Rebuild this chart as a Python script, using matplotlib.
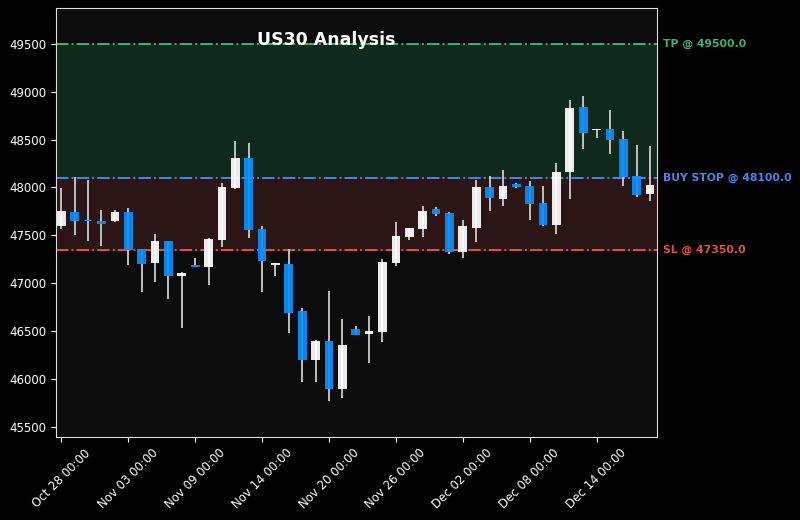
import matplotlib
matplotlib.use("Agg")
import matplotlib.pyplot as plt
import matplotlib.transforms as mtransforms
import numpy as np
import pandas as pd

# daily candles (Saturdays skipped), Oct 28 - Dec 18
dates = [d for d in pd.date_range("2025-10-28", "2025-12-18", freq="D") if d.weekday() != 5]

opens = [47600, 47745, 47655, 47650, 47645, 47745, 47355, 47210, 47440, 47080,
         47190, 47172, 47455, 47990, 48305, 47570, 47195, 47205, 46705, 46200,
         46400, 45890, 46520, 46465, 46490, 47210, 47480, 47565, 47775, 47735,
         47330, 47580, 48000, 47880, 48040, 48010, 47835, 47605, 48160, 48835,
         48595, 48610, 48510, 48115, 47930]
highs = [47995, 48105, 48080, 47760, 47760, 47785, 47360, 47515, 47445, 47115,
         47265, 47470, 48045, 48490, 48465, 47600, 47215, 47355, 46740, 46405,
         46920, 46630, 46555, 46655, 47250, 47640, 47580, 47810, 47800, 47740,
         47665, 48075, 48115, 48185, 48050, 48070, 48010, 48255, 48915, 48960,
         48615, 48810, 48590, 48440, 48430]
lows = [47565, 47505, 47445, 47390, 47640, 47195, 46910, 47010, 46840, 46530,
        47165, 46985, 47380, 47980, 47470, 46905, 47080, 46485, 45970, 45965,
        45765, 45805, 46455, 46165, 46385, 47175, 47455, 47480, 47700, 47310,
        47265, 47430, 47750, 47810, 47990, 47665, 47595, 47515, 47880, 48405,
        48515, 48350, 48010, 47905, 47855]
closes = [47750, 47650, 47645, 47615, 47745, 47350, 47205, 47440, 47080, 47110,
          47172, 47460, 48000, 48305, 47560, 47235, 47205, 46690, 46200, 46400,
          45890, 46350, 46460, 46500, 47225, 47495, 47575, 47755, 47720, 47325,
          47595, 48000, 47890, 48010, 48000, 47830, 47605, 48165, 48825, 48570,
          48610, 48500, 48110, 47925, 48030]

tp = 49500.0
buy_stop = 48100.0
sl = 47350.0

fig = plt.figure(figsize=(8, 5.2), dpi=100, facecolor="black")
ax = fig.add_axes([0.07, 0.16, 0.751, 0.825])
ax.set_facecolor("#0c0c0c")

# zones
ax.axhspan(buy_stop, tp, color="#0f2a1d", zorder=0)
ax.axhspan(sl, buy_stop, color="#2b1515", zorder=0)

x = np.arange(len(dates))
o = np.array(opens)
c = np.array(closes)
up = c >= o
body_colors = np.where(up, "#ffffff", "#0a90ff")
heights = np.maximum(np.abs(c - o), 12)

ax.vlines(x, lows, highs, color="#cccccc", linewidth=1.3, zorder=2)
ax.bar(x, heights, bottom=np.minimum(o, c), width=0.65, color=body_colors,
       alpha=0.92, zorder=3)

# levels
ax.axhline(tp, color="#3cb371", linestyle="-.", linewidth=1.4, zorder=1)
ax.axhline(buy_stop, color="#4a86e8", linestyle="-.", linewidth=1.4, zorder=1)
ax.axhline(sl, color="#e05050", linestyle="-.", linewidth=1.4, zorder=1)

trans = mtransforms.blended_transform_factory(ax.transAxes, ax.transData)
ax.text(1.01, tp, f"TP @ {tp}", color="#3cb371", fontsize=7.8, fontweight="bold",
        va="center", transform=trans)
ax.text(1.01, buy_stop, f"BUY STOP @ {buy_stop}", color="#4a86e8", fontsize=7.8,
        fontweight="bold", va="center", transform=trans)
ax.text(1.01, sl, f"SL @ {sl}", color="#e05050", fontsize=7.8, fontweight="bold",
        va="center", transform=trans)

fig.text(326 / 800, 1 - 40 / 520, "US30 Analysis", color="white", fontsize=12.5,
         fontweight="bold", ha="center", va="center")

ax.set_xlim(-0.4, len(dates) - 0.5)
ax.set_ylim(45396, 49876)
ax.set_yticks([45500, 46000, 46500, 47000, 47500, 48000, 48500, 49000, 49500])

tick_pos = x[::5]
ax.set_xticks(tick_pos)
ax.set_xticklabels([dates[i].strftime("%b %d %H:%M") for i in tick_pos], rotation=45)
ax.tick_params(colors="white", labelsize=8.5)
for s in ax.spines.values():
    s.set_color("#dddddd")

fig.savefig("out.png", dpi=100, facecolor="black")
